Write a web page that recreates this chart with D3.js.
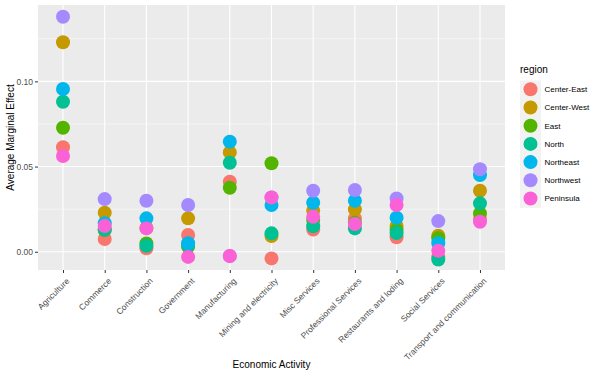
<!DOCTYPE html>
<html>
<head>
<meta charset="utf-8">
<script src="https://cdn.jsdelivr.net/npm/d3@7"></script>
<style>
  body { margin: 0; background: #fff; }
  text { font-family: "Liberation Sans", Arial, sans-serif; }
</style>
</head>
<body>
<div id="chart"></div>
<script>
// categories and regions
const activities = ["Agriculture", "Commerce", "Construction", "Government", "Manufacturing",
  "Mining and electricity", "Misc Services", "Professional Services", "Restaurants and loding",
  "Social Services", "Transport and communication"];
const regions = ["Center-East", "Center-West", "East", "North", "Northeast", "Northwest", "Peninsula"];
const regionColors = ["#F8766D", "#C49A00", "#53B400", "#00C094", "#00B6EB", "#A58AFF", "#FB61D7"];

// average marginal effect per region, one value per activity
const centerEast = [0.0613, 0.0075, 0.0020, 0.0098, 0.0411, -0.0039, 0.0131, 0.0196, 0.0085, -0.0030, 0.0190];
const centerWest = [0.1229, 0.0229, 0.0140, 0.0196, 0.0583, 0.0092, 0.0241, 0.0249, 0.0151, 0.0094, 0.0358];
const east       = [0.0728, 0.0127, 0.0049, 0.0030, 0.0376, 0.0519, 0.0186, 0.0170, 0.0127, 0.0079, 0.0225];
const north      = [0.0880, 0.0130, 0.0035, 0.0040, 0.0522, 0.0108, 0.0150, 0.0137, 0.0110, -0.0045, 0.0284];
const northeast  = [0.0955, 0.0167, 0.0196, 0.0050, 0.0646, 0.0274, 0.0288, 0.0299, 0.0200, 0.0050, 0.0450];
const northwest  = [0.1379, 0.0309, 0.0299, 0.0274, -0.0025, 0.0319, 0.0358, 0.0362, 0.0313, 0.0180, 0.0484];
const peninsula  = [0.0562, 0.0151, 0.0137, -0.0030, -0.0025, 0.0319, 0.0205, 0.0163, 0.0274, 0.0006, 0.0176];
const yTicks = [0, 0.05, 0.10];
const yMinor = [0.025, 0.075, 0.125];

const seriesList = [centerEast, centerWest, east, north, northeast, northwest, peninsula];

const W = 601, H = 375;
const margin = { top: 5, right: 96, bottom: 105, left: 38 };
const pw = W - margin.left - margin.right;
const ph = H - margin.top - margin.bottom;

const svg = d3.select("#chart").append("svg")
  .attr("width", W).attr("height", H);

const g = svg.append("g").attr("transform", `translate(${margin.left},${margin.top})`);

const x = d3.scalePoint().domain(activities).range([0, pw]).padding(0.6);
const y = d3.scaleLinear().domain([-0.0107, 0.1448]).range([ph, 0]);
const color = d3.scaleOrdinal().domain(regions).range(regionColors);

// panel
g.append("rect").attr("width", pw).attr("height", ph).attr("fill", "#EBEBEB");

// grid
g.selectAll(".minor").data(yMinor).enter().append("line")
  .attr("x1", 0).attr("x2", pw)
  .attr("y1", d => y(d)).attr("y2", d => y(d))
  .attr("stroke", "#fff").attr("stroke-width", 0.5);
g.selectAll(".major").data(yTicks).enter().append("line")
  .attr("x1", 0).attr("x2", pw)
  .attr("y1", d => y(d)).attr("y2", d => y(d))
  .attr("stroke", "#fff").attr("stroke-width", 1.1);
g.selectAll(".vgrid").data(activities).enter().append("line")
  .attr("x1", d => x(d)).attr("x2", d => x(d))
  .attr("y1", 0).attr("y2", ph)
  .attr("stroke", "#fff").attr("stroke-width", 1.1);

// points
const points = [];
regions.forEach((r, i) => {
  activities.forEach((a, j) => points.push({ region: r, activity: a, value: seriesList[i][j] }));
});
g.selectAll(".pt").data(points).enter().append("circle")
  .attr("cx", d => x(d.activity))
  .attr("cy", d => y(d.value))
  .attr("r", 7)
  .attr("fill", d => color(d.region));

// y axis
const yAxis = g.append("g")
  .call(d3.axisLeft(y).tickValues(yTicks).tickFormat(d3.format(".2f")).tickSize(3).tickPadding(2));
yAxis.select(".domain").remove();
yAxis.selectAll("line").attr("stroke", "#333");
yAxis.selectAll("text").attr("fill", "#4D4D4D").attr("font-size", "8.5px");

// x axis
const xAxis = g.append("g").attr("transform", `translate(0,${ph})`)
  .call(d3.axisBottom(x).tickSize(3));
xAxis.select(".domain").remove();
xAxis.selectAll("line").attr("stroke", "#333");
xAxis.selectAll("text")
  .attr("fill", "#4D4D4D").attr("font-size", "8.5px")
  .attr("text-anchor", "end")
  .attr("dy", null).attr("y", 0)
  .attr("transform", "translate(2,7) rotate(-45)")
  .attr("dominant-baseline", "hanging");

// axis titles
svg.append("text")
  .attr("x", margin.left + pw / 2).attr("y", 368)
  .attr("text-anchor", "middle").attr("font-size", "10px").attr("fill", "#000")
  .text("Economic Activity");
svg.append("text")
  .attr("transform", `translate(14,${margin.top + ph / 2}) rotate(-90)`)
  .attr("text-anchor", "middle").attr("font-size", "10px").attr("fill", "#000")
  .text("Average Marginal Effect");

// legend
const lg = svg.append("g").attr("transform", "translate(520,0)");
lg.append("text").attr("x", 0).attr("y", 73).attr("font-size", "10px").attr("fill", "#000").text("region");
lg.append("rect").attr("x", 0).attr("y", 80.5).attr("width", 21).attr("height", regions.length * 18.2)
  .attr("fill", "#F2F2F2");
regions.forEach((r, i) => {
  const cy = 89.3 + i * 18.2;
  lg.append("circle").attr("cx", 10.5).attr("cy", cy).attr("r", 7).attr("fill", color(r));
  lg.append("text").attr("x", 24.5).attr("y", cy).attr("dy", "0.35em")
    .attr("font-size", "8px").attr("fill", "#000").text(r);
});
</script>
</body>
</html>
